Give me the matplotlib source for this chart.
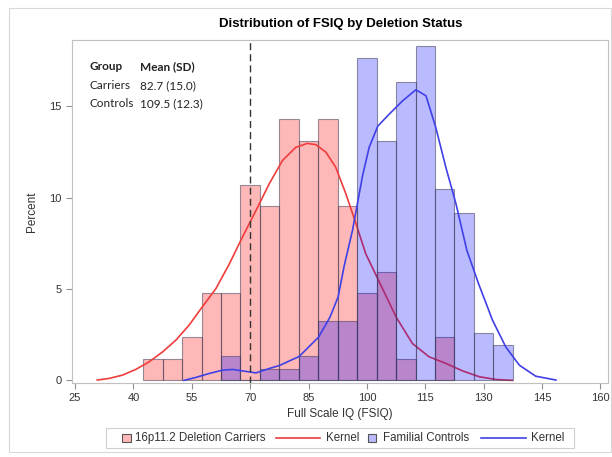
import numpy as np
import matplotlib
matplotlib.use('Agg')
import matplotlib.pyplot as plt
from matplotlib.patches import Rectangle
from matplotlib.lines import Line2D
from matplotlib.offsetbox import HPacker, TextArea, DrawingArea, AnchoredOffsetbox

plt.rcParams['font.family'] = ['Liberation Sans', 'DejaVu Sans']

# histogram bins (centres, width 5)
carrier_bins = [45, 50, 55, 60, 65, 70, 75, 80, 85, 90, 95, 100, 105, 110, 115, 120]
carrier_pct = [1.19, 1.19, 2.38, 4.76, 4.76, 10.71, 9.52, 14.29, 13.10, 14.29,
               9.52, 4.76, 5.95, 1.19, 0.0, 2.38]
control_bins = [65, 70, 75, 80, 85, 90, 95, 100, 105, 110, 115, 120, 125, 130, 135]
control_pct = [1.31, 0.0, 0.65, 0.65, 1.31, 3.27, 3.27, 17.65, 13.07, 16.34,
               18.30, 10.46, 9.15, 2.61, 1.96]

# kernel density curves
carrier_kx = [30.7, 33.8, 37.2, 40.6, 44.0, 47.5, 50.9, 54.3, 57.7, 61.2, 64.6, 68.0,
              71.5, 74.9, 78.3, 81.7, 84.7, 86.9, 89.5, 92.0, 94.6, 97.2, 99.7,
              103.2, 107.5, 111.7, 116.0, 120.3, 124.6, 128.9, 133.2, 137.4]
carrier_ky = [0.02, 0.11, 0.29, 0.60, 1.01, 1.56, 2.20, 3.02, 4.02, 5.02, 6.35, 7.83,
              9.29, 10.75, 12.02, 12.74, 12.96, 12.89, 12.47, 11.65, 10.20, 8.57, 6.93,
              5.38, 3.47, 2.02, 1.29, 0.93, 0.52, 0.20, 0.05, 0.0]
control_kx = [53.0, 56.0, 59.5, 62.9, 65.5, 68.0, 71.5, 74.9, 77.6, 82.6, 87.6, 90.5,
              92.6, 94.2, 96.3, 98.9, 100.6, 102.8, 105.8, 109.2, 112.6, 115.2, 117.7,
              120.3, 122.9, 125.7, 128.7, 132.3, 135.7, 139.2, 143.4, 148.6]
control_ky = [0.0, 0.16, 0.38, 0.56, 0.60, 0.52, 0.41, 0.65, 0.82, 1.31, 2.37, 3.45,
              4.56, 6.29, 8.2, 11.2, 12.75, 13.9, 14.57, 15.29, 15.89, 15.56, 13.84,
              11.65, 9.66, 7.11, 5.29, 3.29, 1.83, 0.83, 0.23, 0.02]

xticks = [25, 40, 55, 70, 85, 100, 115, 130, 145, 160]
yticks = [0, 5, 10, 15]
cutoff = 70

red_fill = (1.0, 0.0, 0.0, 0.28)
blue_fill = (0.0, 0.0, 1.0, 0.27)
bar_edge = (0.25, 0.25, 0.35, 0.55)
red_line = '#f03c3c'
blue_line = '#4040e8'

fig = plt.figure(figsize=(6.12, 4.57), dpi=100)
fig.patches.append(Rectangle((0.014, 0.01), 0.984, 0.972, transform=fig.transFigure,
                             fill=False, edgecolor='#d8d8d8', linewidth=0.8))
ax = fig.add_axes([0.1176, 0.162, 0.876, 0.750])

ax.bar(carrier_bins, carrier_pct, width=5, color=red_fill, edgecolor=bar_edge,
       linewidth=0.8, zorder=1)
ax.plot(carrier_kx, carrier_ky, color=red_line, linewidth=1.2, zorder=2)
ax.bar(control_bins, control_pct, width=5, color=blue_fill, edgecolor=bar_edge,
       linewidth=0.8, zorder=3)
ax.plot(control_kx, control_ky, color=blue_line, linewidth=1.2, zorder=4)
ax.axvline(cutoff, color='#333333', linestyle=(0, (5, 3)), linewidth=1.0, zorder=5)

ax.set_xlim(24.2, 162)
ax.set_ylim(-0.14, 18.6)
ax.set_xticks(xticks)
ax.set_yticks(yticks)
ax.tick_params(colors='#909090', labelcolor='#333333', labelsize=8, length=4)
for s in ax.spines.values():
    s.set_color('#c0c0c0')
    s.set_linewidth(0.8)

ax.set_xlabel('Full Scale IQ (FSIQ)', fontsize=8.5, color='#333333', labelpad=3)
ax.set_ylabel('Percent', fontsize=8.5, color='#333333', labelpad=8)
fig.text(0.556, 0.948, 'Distribution of FSIQ by Deletion Status', ha='center',
         va='center', fontsize=9.5, fontweight='bold')

# summary table inset
tfont = dict(family=['Lato', 'DejaVu Sans'], fontsize=8.5, color='#222222',
             transform=ax.transAxes, va='center')
rows = [('Group', 'Mean (SD)'), ('Carriers', '82.7 (15.0)'), ('Controls', '109.5 (12.3)')]
for i, (a, b) in enumerate(rows):
    w = 'bold' if i == 0 else 'normal'
    ax.text(0.033, 0.922 - i * 0.054, a, fontweight=w, **tfont)
    ax.text(0.127, 0.922 - i * 0.054, b, fontweight=w, **tfont)


# legend built from offset boxes so squares and lines can have different widths
def square(fc):
    da = DrawingArea(7, 7)
    da.add_artist(Rectangle((0.5, 0.5), 6, 6, facecolor=fc, edgecolor='#555555',
                            linewidth=0.8))
    return da


def line(c):
    da = DrawingArea(32, 7)
    da.add_artist(Line2D([0, 32], [3.5, 3.5], color=c, linewidth=1.2))
    return da


def gap(w):
    return DrawingArea(w, 1)


def label(s):
    return TextArea(s, textprops=dict(fontsize=8.3, color='#333333'))


items = [gap(8), square(red_fill), gap(3), label('16p11.2 Deletion Carriers'), gap(7),
         line(red_line), gap(4), label('Kernel'), gap(6),
         square(blue_fill), gap(4), label('Familial Controls'), gap(9),
         line(blue_line), gap(4), label('Kernel'), gap(4)]
box = HPacker(children=items, align='center', pad=0, sep=0)
anchored = AnchoredOffsetbox(loc='center', child=box, pad=0.3, borderpad=0,
                             frameon=True, bbox_to_anchor=(0.556, 0.041),
                             bbox_transform=fig.transFigure)
anchored.patch.set_edgecolor('#d0d0d0')
anchored.patch.set_linewidth(0.8)
anchored.patch.set_boxstyle('square', pad=0)
fig.add_artist(anchored)

fig.savefig('out.png', dpi=100)
